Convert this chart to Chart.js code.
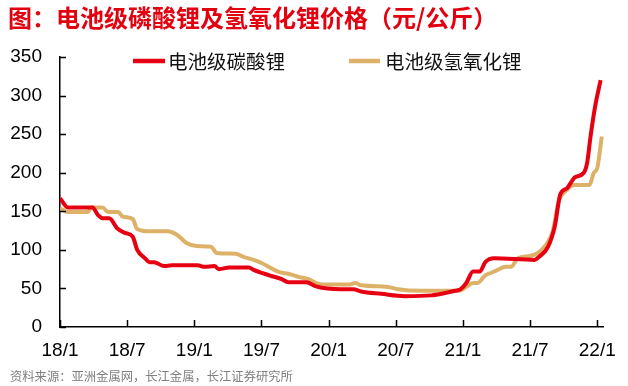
<!DOCTYPE html>
<html><head><meta charset="utf-8">
<script src="https://cdn.jsdelivr.net/npm/chart.js@4.4.1/dist/chart.umd.min.js"></script>
<style>
html,body{margin:0;padding:0;background:#fff;}
#wrap{position:relative;width:628px;height:386px;overflow:hidden;}
#title{position:absolute;left:8px;top:2px;font:bold 24px "Noto Sans CJK SC",sans-serif;color:#e3000f;white-space:nowrap;line-height:30px;}
#src{position:absolute;left:10px;top:367px;font:12.3px "Noto Sans CJK SC",sans-serif;color:#7f7f7f;white-space:nowrap;line-height:18px;}
canvas{position:absolute;left:0;top:0;}
</style></head>
<body><div id="wrap">
<canvas id="c" width="628" height="386"></canvas>
<div id="title">图：电池级磷酸锂及氢氧化锂价格（元/公斤）</div>
<div id="src">资料来源：亚洲金属网，长江金属，长江证券研究所</div>
</div>
<script>
// x = months since 2018/1
const seriesNames = ['电池级碳酸锂', '电池级氢氧化锂'];
const xTickMonths = [0, 6, 12, 18, 24, 30, 36, 42, 48];
const xTickLabels = ['18/1', '18/7', '19/1', '19/7', '20/1', '20/7', '21/1', '21/7', '22/1'];
const yTicks = [0, 50, 100, 150, 200, 250, 300, 350];

const lcMonth = [0,0.7,2.9,3.4,3.8,4.4,5.1,5.8,6.5,6.9,7.6,8.0,8.4,9.3,10.0,12.3,12.9,13.8,14.2,15.1,16.9,17.3,18.7,19.8,20.4,22.0,22.8,23.4,25.8,26.2,26.9,28.7,30.8,33.2,34.4,35.3,35.8,36.3,36.9,37.5,38.0,38.8,42.4,42.8,43.6,44.2,44.7,45.3,46.0,46.8,47.1,47.4,47.8,48.3];
const lcPrice = [167,155,155,145,141,141,128,122,117,100,89,84,84,79,80,80,78,79,75,77,77,74,67,62,58,58,53,51,49,49,46,43,40,41,44,47,49,57,72,72,84,89,87,91,104,130,172,180,194,200,213,247,285,320];

const lhMonth = [0,0.7,2.5,2.8,3.8,4.3,5.2,5.6,6.5,6.9,8.0,9.6,10.5,11.3,12.2,13.5,14.0,15.7,16.4,17.3,18.0,19.6,20.4,21.3,22.2,22.9,23.4,25.8,26.4,26.9,29.3,30.2,32.3,34.9,35.7,36.3,36.9,37.3,38.0,38.5,39.1,39.8,40.3,40.9,42.0,42.7,43.4,44.0,44.6,45.1,45.6,46.0,47.3,47.7,48.0,48.4];
const lhPrice = [154,149,149,155,155,149,149,143,140,127,124,124,119,109,105,104,96,95,91,87,83,71,69,65,62,57,55,55,57,54,52,49,47,47,47,52,57,57,67,70,74,78,78,89,92,96,106,123,165,175,182,184,184,200,206,247];

const colors = ['#e60012', '#ddb268'];
const toPts = (xs, ys) => xs.map((x, i) => ({x: x, y: ys[i]}));

const tickPlugin = {
  id: 'inTicks',
  afterDraw(chart) {
    const ctx = chart.ctx, xs = chart.scales.x, ys = chart.scales.y;
    const a = chart.chartArea;
    ctx.save();
    ctx.strokeStyle = '#000';
    ctx.lineWidth = 1.5;
    ctx.beginPath();
    xTickMonths.forEach(m => { const p = Math.round(xs.getPixelForValue(m)) + 0.5; ctx.moveTo(p, a.bottom); ctx.lineTo(p, a.bottom - 7); });
    yTicks.forEach(v => { const p = Math.round(ys.getPixelForValue(v)) + 0.5; ctx.moveTo(a.left, p); ctx.lineTo(a.left + 6, p); });
    ctx.stroke();
    // legend
    const leg = [{x1:133, x2:165, tx:168}, {x1:349, x2:380, tx:385}];
    chart.data.datasets.forEach((ds, i) => {
      const L = leg[i], y = 61;
      ctx.strokeStyle = ds.borderColor; ctx.lineWidth = 4.5; ctx.lineCap = 'butt';
      ctx.beginPath(); ctx.moveTo(L.x1, y); ctx.lineTo(L.x2, y); ctx.stroke();
      ctx.fillStyle = '#111'; ctx.font = '19.5px "Noto Sans CJK SC"'; ctx.textBaseline = 'middle'; ctx.textAlign = 'left';
      ctx.fillText(ds.label, L.tx, y + 1);
    });
    ctx.restore();
  }
};

new Chart(document.getElementById('c'), {
  type: 'line',
  data: {
    datasets: [
      {label: seriesNames[0], data: toPts(lcMonth, lcPrice), borderColor: colors[0], borderWidth: 4, pointRadius: 0, cubicInterpolationMode: 'monotone', fill: false, order: 1},
      {label: seriesNames[1], data: toPts(lhMonth, lhPrice), borderColor: colors[1], borderWidth: 4, pointRadius: 0, cubicInterpolationMode: 'monotone', fill: false, order: 2}
    ]
  },
  options: {
    responsive: false, animation: false, devicePixelRatio: 1,
    layout: {padding: {top: 57, right: 21, left: 0, bottom: 0}},
    plugins: {legend: {display: false}, title: {display: false}, tooltip: {enabled: false}},
    scales: {
      x: {
        type: 'linear', min: 0, max: 48.6,
        afterFit(s) { s.height = 59; },
        afterBuildTicks(s) { s.ticks = xTickMonths.map(v => ({value: v})); },
        grid: {display: false, drawTicks: false},
        border: {display: true, color: '#000', width: 1.5},
        ticks: {autoSkip: false, maxRotation: 0, padding: 12, color: '#000', font: {family: '"Liberation Sans", Arial', size: 19},
          callback: (v) => xTickLabels[xTickMonths.indexOf(v)]}
      },
      y: {
        min: 0, max: 350,
        afterFit(s) { s.width = 60; },
        afterBuildTicks(s) { s.ticks = yTicks.map(v => ({value: v})); },
        grid: {display: false, drawTicks: false},
        border: {display: true, color: '#000', width: 1.5},
        ticks: {padding: 18, color: '#000', font: {family: '"Liberation Sans", Arial', size: 19}}
      }
    }
  },
  plugins: [tickPlugin]
});
</script>
</body></html>
